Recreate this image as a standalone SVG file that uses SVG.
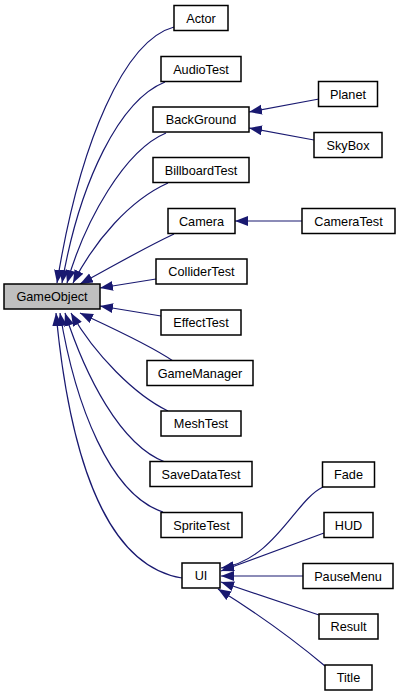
<svg xmlns="http://www.w3.org/2000/svg" width="400" height="696" viewBox="0 0 400 696">
<style>
.n rect{fill:#fff;stroke:#000;stroke-width:1.5}
#GameObject rect{fill:#bfbfbf}
.n text{font-family:"Liberation Sans",Arial,sans-serif;font-size:12.7px;text-anchor:middle;fill:#000}
.e path{fill:none;stroke:#191970;stroke-width:1.2;marker-end:url(#ah)}
</style>
<defs>
<marker id="ah" markerUnits="userSpaceOnUse" markerWidth="14" markerHeight="11" refX="13" refY="5" orient="auto">
<path d="M0,0 L13,5 L0,10 z" fill="#191970"/>
</marker>
</defs>
<g class="e" id="edges">
<path d="M174,27 C125,40 80,140 57,283"/>
<path d="M165,82 C120,100 80,180 62,283"/>
<path d="M166,133 C125,150 85,220 67,283"/>
<path d="M168,183 C130,200 95,240 73,283"/>
<path d="M174,234 C140,250 110,268 80,284"/>
<path d="M156,279 L100,288"/>
<path d="M161,316 L100,306"/>
<path d="M173,361 C150,345 110,327 80,313"/>
<path d="M168,411 C135,395 95,355 71,313"/>
<path d="M165,462 C120,445 85,375 65,313"/>
<path d="M163,512 C110,495 75,405 60,313"/>
<path d="M182,578 C100,565 68,440 56,313"/>
<path d="M319,99 L249,112"/>
<path d="M314,140 L249,128"/>
<path d="M302,221 L235,221"/>
<path d="M323,487 C295,500 275,560 221,568"/>
<path d="M324,533 L221,571"/>
<path d="M303,576 L221,576"/>
<path d="M319,615 L221,582"/>
<path d="M325,666 C300,645 260,615 218,589"/>
</g>
<g class="n" id="GameObject"><rect x="4" y="284" width="96" height="25"/><text x="52" y="301">GameObject</text></g>
<g class="n" id="Actor"><rect x="174" y="5.5" width="54" height="25"/><text x="201" y="22.5">Actor</text></g>
<g class="n" id="AudioTest"><rect x="161" y="56.5" width="80" height="25"/><text x="201" y="73.5">AudioTest</text></g>
<g class="n" id="BackGround"><rect x="153" y="107" width="96" height="25"/><text x="201" y="124">BackGround</text></g>
<g class="n" id="BillboardTest"><rect x="153" y="157.5" width="96" height="25"/><text x="201" y="174.5">BillboardTest</text></g>
<g class="n" id="Camera"><rect x="168" y="208.5" width="67" height="25"/><text x="201.5" y="225.5">Camera</text></g>
<g class="n" id="ColliderTest"><rect x="156" y="259" width="91" height="25"/><text x="201.5" y="276">ColliderTest</text></g>
<g class="n" id="EffectTest"><rect x="161" y="310" width="80" height="25"/><text x="201" y="327">EffectTest</text></g>
<g class="n" id="GameManager"><rect x="147" y="360.5" width="106" height="25"/><text x="200" y="377.5">GameManager</text></g>
<g class="n" id="MeshTest"><rect x="161" y="411" width="80" height="25"/><text x="201" y="428">MeshTest</text></g>
<g class="n" id="SaveDataTest"><rect x="150" y="461.5" width="102" height="25"/><text x="201" y="478.5">SaveDataTest</text></g>
<g class="n" id="SpriteTest"><rect x="161" y="512.5" width="81" height="25"/><text x="201.5" y="529.5">SpriteTest</text></g>
<g class="n" id="UI"><rect x="182" y="563" width="38" height="25"/><text x="201" y="580">UI</text></g>
<g class="n" id="Planet"><rect x="318.5" y="81.5" width="59" height="25"/><text x="348" y="98.5">Planet</text></g>
<g class="n" id="SkyBox"><rect x="314" y="132.5" width="68" height="25"/><text x="348" y="149.5">SkyBox</text></g>
<g class="n" id="CameraTest"><rect x="302" y="208.5" width="93" height="25"/><text x="348.5" y="225.5">CameraTest</text></g>
<g class="n" id="Fade"><rect x="322.5" y="462" width="52" height="25"/><text x="348.5" y="479">Fade</text></g>
<g class="n" id="HUD"><rect x="324" y="512.5" width="49" height="25"/><text x="348.5" y="529.5">HUD</text></g>
<g class="n" id="PauseMenu"><rect x="303" y="563.5" width="90" height="25"/><text x="348" y="580.5">PauseMenu</text></g>
<g class="n" id="Result"><rect x="319" y="614" width="59" height="25"/><text x="348.5" y="631">Result</text></g>
<g class="n" id="Title"><rect x="325" y="665" width="47" height="25"/><text x="348.5" y="682">Title</text></g>
</svg>
